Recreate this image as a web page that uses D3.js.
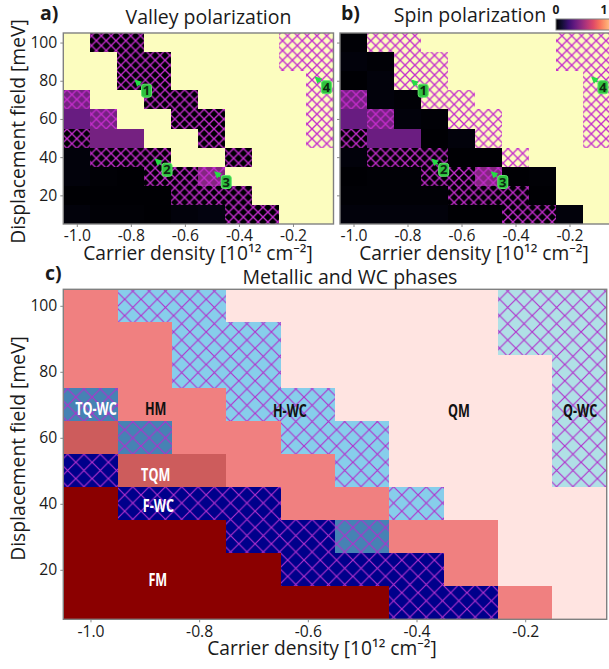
<!DOCTYPE html>
<html>
<head>
<meta charset="utf-8">
<title>Valley, spin and WC phases</title>
<script src="https://d3js.org/d3.v7.min.js"></script>
<style>
body { margin: 0; background: white; }
svg { display: block; }
text { font-family: "Open Sans", "Noto Sans", sans-serif; fill: #1a1a1a; }
.tick line { stroke: #888; }
.tick text { font-size: 15.7px; }
.domain { display: none; }
</style>
</head>
<body>
<script>
// cell centres
var densities = [-1.0, -0.9, -0.8, -0.7, -0.6, -0.5, -0.4, -0.3, -0.2, -0.1];
var fields = [100, 90, 80, 70, 60, 50, 40, 30, 20, 10];
var xTicks = [-1.0, -0.8, -0.6, -0.4, -0.2];
var yTicks = [20, 40, 60, 80, 100];

// rows go from field=100 down to field=10
var valley = [
  [1, 0, 0, 1, 1, 1, 1, 1, 1, 1],
  [1, 1, 0, 0, 1, 1, 1, 1, 1, 1],
  [1, 1, 0, 0, 1, 1, 1, 1, 1, 1],
  [.34, 1, 1, 0, 0, 1, 1, 1, 1, 1],
  [.31, .34, 1, 1, 0, 0, 1, 1, 1, 1],
  [0, .34, .34, 1, 1, 0, 1, 1, 1, 1],
  [.02, 0, 0, 0, 1, 1, 0, 1, 1, 1],
  [.02, .01, 0, 0, 0, .38, 1, 1, 1, 1],
  [0, 0, 0, 0, 0, 0, 0, 1, 1, 1],
  [.02, .01, .01, 0, .02, .03, 0, 0, 1, 1]
];
var spin = [
  [.01, 1, 1, 1, 1, 1, 1, 1, 1, 1],
  [.02, .01, 1, 1, 1, 1, 1, 1, 1, 1],
  [0, .02, 1, 1, 1, 1, 1, 1, 1, 1],
  [.34, .02, .01, 1, 1, 1, 1, 1, 1, 1],
  [.31, .34, .02, .01, 1, 1, 1, 1, 1, 1],
  [0, .32, .32, 0, .02, 1, 1, 1, 1, 1],
  [.02, 0, 0, 0, 0, 0, 1, 1, 1, 1],
  [0, .01, .01, 0, 0, .38, 0, .01, 1, 1],
  [.01, .01, .01, .01, 0, 0, 0, 0, 1, 1],
  [.02, .02, .02, .02, 0, 0, 0, 0, .02, 1]
];
// 1 = Wigner crystal cell (hatched)
var wc = [
  [0, 1, 1, 0, 0, 0, 0, 0, 1, 1],
  [0, 0, 1, 1, 0, 0, 0, 0, 1, 1],
  [0, 0, 1, 1, 0, 0, 0, 0, 0, 1],
  [1, 0, 0, 1, 1, 0, 0, 0, 0, 1],
  [0, 1, 0, 0, 1, 1, 0, 0, 0, 1],
  [1, 0, 0, 0, 0, 1, 0, 0, 0, 1],
  [0, 1, 1, 1, 0, 0, 1, 0, 0, 0],
  [0, 0, 0, 1, 1, 1, 0, 0, 0, 0],
  [0, 0, 0, 0, 1, 1, 1, 0, 0, 0],
  [0, 0, 0, 0, 0, 0, 1, 1, 0, 0]
];
var phases = [
  ["HM", "HW", "HW", "QM", "QM", "QM", "QM", "QM", "QW", "QW"],
  ["HM", "HM", "HW", "HW", "QM", "QM", "QM", "QM", "QW", "QW"],
  ["HM", "HM", "HW", "HW", "QM", "QM", "QM", "QM", "QM", "QW"],
  ["TW", "HM", "HM", "HW", "HW", "QM", "QM", "QM", "QM", "QW"],
  ["TM", "TW", "HM", "HM", "HW", "HW", "QM", "QM", "QM", "QW"],
  ["FW", "TM", "TM", "HM", "HM", "HW", "QM", "QM", "QM", "QW"],
  ["FM", "FW", "FW", "FW", "HM", "HM", "HW", "QM", "QM", "QM"],
  ["FM", "FM", "FM", "FW", "FW", "TW", "HM", "HM", "QM", "QM"],
  ["FM", "FM", "FM", "FM", "FW", "FW", "FW", "HM", "QM", "QM"],
  ["FM", "FM", "FM", "FM", "FM", "FM", "FW", "FW", "HM", "QM"]
];
var phaseKeys = ["FM", "FW", "TM", "TW", "HM", "HW", "QM", "QW"];
var phaseColors = ["#8b0000", "#00008b", "#cd5c5c", "#4682b4", "#f08080", "#87ceeb", "#ffe4e1", "#b0e0e6"];

var phaseLabels = ["TQ-WC", "HM", "TQM", "F-WC", "FM", "H-WC", "QM", "Q-WC"];
var phaseLabelX = [-0.99, -0.88, -0.88, -0.875, -0.876, -0.633, -0.322, -0.099];
var phaseLabelY = [69, 69, 49, 39.4, 17, 68.2, 68.2, 68.2];
var phaseLabelColor = ["white", "#111", "white", "white", "white", "#111", "#111", "#111"];

// numbered markers in a) and b)
var markerNames = ["1", "2", "3", "4"];
var markerTipX = [-0.785, -0.71, -0.49, -0.118];
var markerTipY = [80.4, 39, 32.4, 82];
var markerBoxX = [-0.742, -0.666, -0.447, -0.076];
var markerBoxY = [74.8, 33.4, 27, 76.6];

var width = 609, height = 669;
var svg = d3.select("body").append("svg").attr("width", width).attr("height", height);
var defs = svg.append("defs");

// ox, oy = a pixel where two hatch lines cross
function addHatch(id, size, color, sw, ox, oy) {
  var p = defs.append("pattern").attr("id", id)
    .attr("patternUnits", "userSpaceOnUse")
    .attr("patternTransform", "translate(" + ox + "," + oy + ")")
    .attr("width", size).attr("height", size);
  p.append("path")
    .attr("d", "M0,0L" + size + "," + size + "M" + size + ",0L0," + size)
    .attr("stroke", color).attr("stroke-width", sw).attr("fill", "none");
}
addHatch("hatchSmall", 9.8, "#c42ccc", 1.35, 380.6, 40.7);
addHatch("hatchBig", 16.3, "#b030cc", 1.15, 141, 299.3);

var arrowHead = defs.append("marker").attr("id", "arrowHead")
  .attr("viewBox", "0 0 10 10").attr("refX", 9).attr("refY", 5)
  .attr("markerUnits", "userSpaceOnUse")
  .attr("markerWidth", 8).attr("markerHeight", 7).attr("orient", "auto");
arrowHead.append("path").attr("d", "M0,0L10,5L0,10Z").attr("fill", "#25dd45");

function drawPanel(o) {
  var x = d3.scaleLinear().domain([-1.05, -0.05]).range([o.left, o.right]);
  var y = d3.scaleLinear().domain([5, 105]).range([o.bottom, o.top]);
  var g = svg.append("g");

  fields.forEach(function(f, r) {
    densities.forEach(function(d, c) {
      var attrs = function(sel) {
        sel.attr("x", x(d - 0.05)).attr("y", y(f + 5))
          .attr("width", x(d + 0.05) - x(d - 0.05))
          .attr("height", y(f - 5) - y(f + 5))
          .attr("shape-rendering", "crispEdges");
      };
      g.append("rect").call(attrs).attr("fill", o.color(r, c));
      if (wc[r][c]) g.append("rect").call(attrs).attr("fill", "url(#" + o.hatch + ")");
    });
  });

  g.append("g").attr("transform", "translate(0," + o.bottom + ")")
    .call(d3.axisBottom(x).tickValues(xTicks).tickSize(3).tickPadding(o.xPad).tickFormat(function(d) { return d.toFixed(1); }));
  var ya = d3.axisLeft(y).tickValues(yTicks).tickSize(3).tickPadding(3);
  if (o.noYLabels) ya.tickFormat("");
  g.append("g").attr("transform", "translate(" + o.left + ",0)").call(ya);

  g.append("rect").attr("x", o.left).attr("y", o.top)
    .attr("width", o.right - o.left).attr("height", o.bottom - o.top)
    .attr("fill", "none").attr("stroke", "#808080").attr("stroke-width", 1.4);

  // title and panel letter
  svg.append("text").attr("x", o.titleX).attr("y", o.titleY).attr("text-anchor", "middle")
    .style("font-size", "19.5px").text(o.title);
  svg.append("text").attr("x", o.letterX).attr("y", o.letterY)
    .style("font-size", "19.5px").style("font-weight", "bold").text(o.letter);

  svg.append("text").attr("x", o.xLabelX).attr("y", o.xLabelY).attr("text-anchor", "middle")
    .style("font-size", "19.2px").text("Carrier density [10\u00b9\u00b2 cm\u207b\u00b2]");

  if (o.yLabelY) {
    svg.append("text")
      .attr("transform", "translate(25," + o.yLabelY + ") rotate(-90)")
      .attr("text-anchor", "middle").style("font-size", "19.3px")
      .text("Displacement field [meV]");
  }
  return {x: x, y: y, g: g};
}

function drawMarkers(p) {
  markerNames.forEach(function(n, i) {
    var bx = p.x(markerBoxX[i]), by = p.y(markerBoxY[i]);
    p.g.append("line")
      .attr("x1", bx).attr("y1", by)
      .attr("x2", p.x(markerTipX[i])).attr("y2", p.y(markerTipY[i]))
      .attr("stroke", "#25dd45").attr("stroke-width", 1.6)
      .attr("stroke-dasharray", "2.5,1.5")
      .attr("marker-end", "url(#arrowHead)");
    p.g.append("rect").attr("x", bx - 5).attr("y", by - 6.5).attr("width", 10).attr("height", 13)
      .attr("rx", 2.5).attr("fill", "#2fc23f").attr("stroke", "#5ee86a").attr("stroke-width", 1);
    p.g.append("text").attr("x", bx).attr("y", by + 4.7).attr("text-anchor", "middle")
      .style("font-size", "13px").style("font-weight", "bold").style("fill", "#0c2a10").text(n);
  });
}

var magma = d3.interpolateMagma;

var a = drawPanel({
  left: 63.3, right: 333.5, top: 33, bottom: 224, hatch: "hatchSmall",
  color: function(r, c) { return magma(valley[r][c]); },
  title: "Valley polarization", titleX: 208.5, titleY: 24,
  letter: "a)", letterX: 40, letterY: 19.5, xPad: 3,
  xLabelX: 198, xLabelY: 260, yLabelY: 131.5
});
drawMarkers(a);

var b = drawPanel({
  left: 340, right: 610, top: 33, bottom: 224, hatch: "hatchSmall", noYLabels: true,
  color: function(r, c) { return magma(spin[r][c]); },
  title: "Spin polarization", titleX: 470, titleY: 22,
  letter: "b)", letterX: 341, letterY: 20, xPad: 3,
  xLabelX: 474, xLabelY: 260
});
drawMarkers(b);

var phaseColor = d3.scaleOrdinal().domain(phaseKeys).range(phaseColors);
var c = drawPanel({
  left: 63.3, right: 606.7, top: 289.3, bottom: 619.3, hatch: "hatchBig",
  color: function(r, col) { return phaseColor(phases[r][col]); },
  title: "Metallic and WC phases", titleX: 350, titleY: 284,
  letter: "c)", letterX: 45, letterY: 280, xPad: 4,
  xLabelX: 322, xLabelY: 655, yLabelY: 448.5
});

// condensed bold labels: squeeze horizontally, no condensed face installed
phaseLabels.forEach(function(t, i) {
  c.g.append("text")
    .attr("transform", "translate(" + c.x(phaseLabelX[i]) + "," + (c.y(phaseLabelY[i]) + 6.5) + ") scale(0.7,1)")
    .attr("text-anchor", "middle").style("font-size", "18px").style("font-weight", "bold")
    .style("fill", phaseLabelColor[i]).text(t);
});

// colorbar
var cbScale = d3.scaleLinear().domain([0, 1]).range([556, 618]);
var cbStops = d3.range(0, 1.01, 0.1);
var grad = defs.append("linearGradient").attr("id", "magmaGrad");
cbStops.forEach(function(s) {
  grad.append("stop").attr("offset", s).attr("stop-color", magma(s));
});
svg.append("rect").attr("x", cbScale(0)).attr("y", 19)
  .attr("width", cbScale(1) - cbScale(0)).attr("height", 11)
  .attr("fill", "url(#magmaGrad)").attr("stroke", "#808080").attr("stroke-width", 1);
svg.append("text").attr("x", cbScale(0)).attr("y", 14).attr("text-anchor", "middle")
  .style("font-size", "12px").style("font-weight", "bold").text("0");
svg.append("text").attr("x", 604).attr("y", 14).attr("text-anchor", "middle")
  .style("font-size", "12px").style("font-weight", "bold").text("1");
</script>
</body>
</html>
